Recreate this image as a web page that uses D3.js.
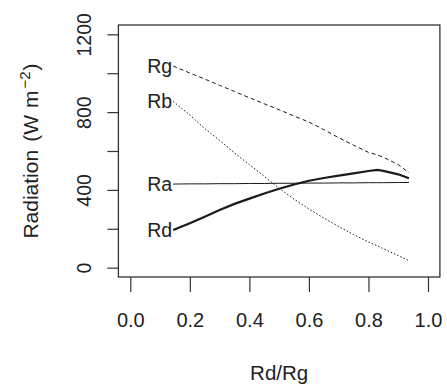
<!DOCTYPE html>
<html>
<head>
<meta charset="utf-8">
<script src="https://cdn.jsdelivr.net/npm/d3@7"></script>
<style>
  body { margin: 0; background: #fff; }
  svg { display: block; font-family: "Liberation Sans", Arial, sans-serif; }
</style>
</head>
<body>
<div id="chart"></div>
<script>
// values
const ratio = [0.144, 0.2, 0.25, 0.3, 0.35, 0.4, 0.45, 0.5, 0.55, 0.6, 0.65, 0.7, 0.75, 0.8, 0.83, 0.85, 0.9, 0.936];
const rg = [1037, 1001, 970, 938, 906, 874, 843, 812, 780, 749, 710, 668, 630, 593, 580, 568, 530, 488];
const rb = [855, 785, 715, 655, 590, 530, 470, 408, 352, 302, 255, 212, 170, 132, 112, 98, 62, 36];
const ra = [430, 431, 431, 432, 432, 433, 433, 434, 434, 435, 435, 436, 436, 437, 437, 437, 438, 438];
const rd = [194, 228, 262, 297, 328, 355, 381, 406, 428, 447, 461, 473, 485, 497, 503, 498, 480, 460];

const xTicks = [0, 0.2, 0.4, 0.6, 0.8, 1.0];
const yTicks = [0, 200, 400, 600, 800, 1000, 1200];

const series = [
  { name: "Rg", values: rg, dash: "4,3", width: 1 },
  { name: "Rb", values: rb, dash: "1.5,2", width: 1 },
  { name: "Ra", values: ra, dash: null, width: 1 },
  { name: "Rd", values: rd, dash: null, width: 2.2 },
];

const width = 447, height = 387;
const ink = "#1a1a1a";

const x = d3.scaleLinear().domain([-0.04, 1.04]).range([118.4, 439.9]);
const y = d3.scaleLinear().domain([-48, 1248]).range([277, 25]);

const svg = d3.select("#chart").append("svg")
  .attr("width", width)
  .attr("height", height);

// plot box
svg.append("rect")
  .attr("x", x(-0.04))
  .attr("y", y(1248))
  .attr("width", x(1.04) - x(-0.04))
  .attr("height", y(-48) - y(1248))
  .attr("fill", "none")
  .attr("stroke", "#333")
  .attr("stroke-width", 1.3);

// x axis
svg.append("g")
  .attr("transform", `translate(0,${y(-48)})`)
  .call(d3.axisBottom(x).tickValues(xTicks).tickSize(15).tickFormat(d3.format(".1f")))
  .call((g) => g.select(".domain").remove())
  .call((g) => g.selectAll("line").attr("stroke", "#333").attr("stroke-width", 1.2))
  .call((g) =>
    g.selectAll("text")
      .attr("y", 50)
      .attr("dy", 0)
      .attr("fill", "#222")
      .style("font-size", "20px"),
  );

// y axis, labels turned like R does
svg.append("g")
  .attr("transform", `translate(${x(-0.04)},0)`)
  .call(d3.axisLeft(y).tickValues(yTicks).tickSize(11).tickFormat((d) => (d % 400 === 0 ? d : "")))
  .call((g) => g.select(".domain").remove())
  .call((g) => g.selectAll("line").attr("stroke", "#333").attr("stroke-width", 1.2))
  .call((g) =>
    g.selectAll("text")
      .attr("x", 0)
      .attr("y", 0)
      .attr("dy", 0)
      .attr("text-anchor", "middle")
      .attr("transform", "translate(-27.5,0) rotate(-90)")
      .attr("fill", "#222")
      .style("font-size", "19.5px"),
  );

// axis titles
svg.append("text")
  .attr("x", (x(-0.04) + x(1.04)) / 2)
  .attr("y", 380)
  .attr("text-anchor", "middle")
  .attr("fill", "#222")
  .style("font-size", "20.5px")
  .text("Rd/Rg");

const yt = svg.append("text")
  .attr("transform", `translate(38,${(y(-48) + y(1248)) / 2}) rotate(-90)`)
  .attr("text-anchor", "middle")
  .attr("fill", "#222")
  .style("font-size", "21px");
yt.append("tspan").text("Radiation");
yt.append("tspan").attr("dx", 8).text("(W");
yt.append("tspan").attr("dx", 7).text("m");
yt.append("tspan").attr("dx", 2).attr("dy", -8).style("font-size", "15px").text("\u22122");
yt.append("tspan").attr("dx", 1).attr("dy", 8).text(")");

// lines
const line = d3.line()
  .x((d, i) => x(ratio[i]))
  .y((d) => y(d));

svg.append("g")
  .attr("fill", "none")
  .selectAll("path")
  .data(series)
  .join("path")
  .attr("stroke", ink)
  .attr("stroke-width", (d) => d.width)
  .attr("stroke-dasharray", (d) => d.dash)
  .attr("d", (d) => line(d.values));

// labels at the start of each line
svg.append("g")
  .selectAll("text")
  .data(series)
  .join("text")
  .attr("x", x(ratio[0]) - 1)
  .attr("y", (d) => y(d.values[0]))
  .attr("dy", "0.35em")
  .attr("text-anchor", "end")
  .attr("fill", "#222")
  .style("font-size", "19.5px")
  .text((d) => d.name);
</script>
</body>
</html>
